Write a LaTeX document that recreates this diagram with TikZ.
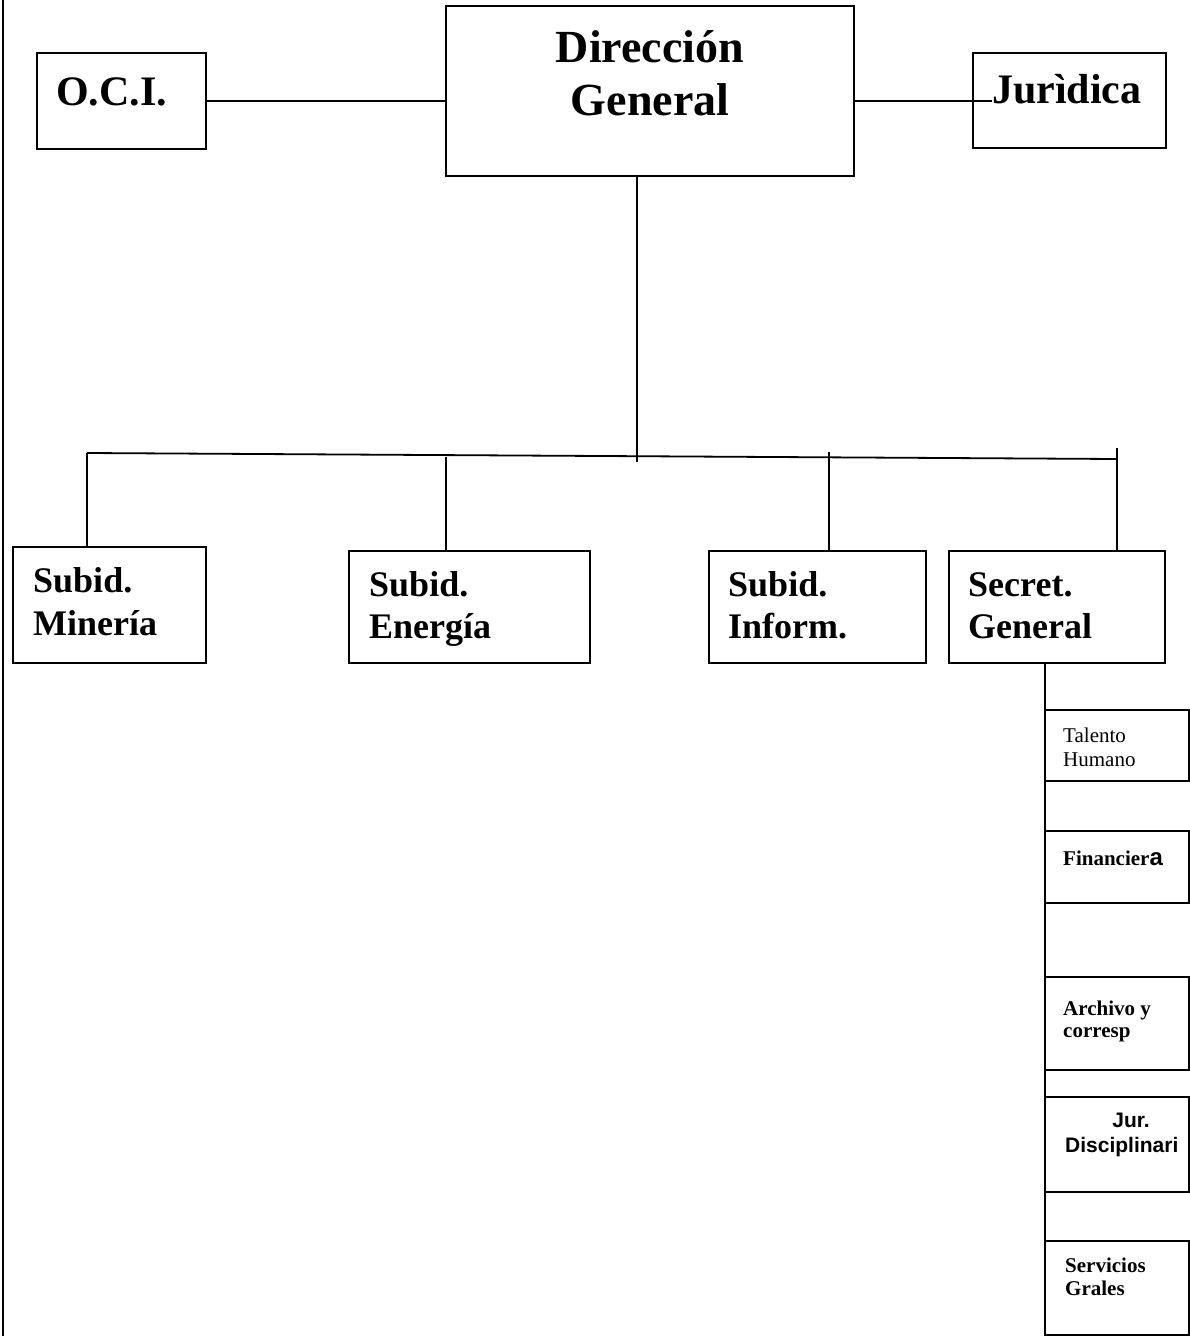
\documentclass[tikz,border=0pt]{standalone}
\usepackage{fontspec}
\setmainfont{Liberation Serif}
\newfontfamily\arialf{Liberation Sans}
\usetikzlibrary{fit}
\begin{document}
\begin{tikzpicture}[x=1pt,y=-1pt,
  box/.style={draw, line width=1.8pt, inner sep=0pt, outer sep=0pt, rectangle},
  conn/.style={line width=1.8pt},
  hugetxt/.style={font=\bfseries\fontsize{46}{53}\selectfont, inner sep=0pt, anchor=base},
  bigtxt/.style={font=\bfseries\fontsize{42}{48}\selectfont, inner sep=0pt, anchor=base west},
  midtxt/.style={font=\bfseries\fontsize{36}{42}\selectfont, inner sep=0pt, anchor=base west},
  smalltxt/.style={font=\fontsize{21}{24}\selectfont, inner sep=0pt, anchor=base west},
  smallbtxt/.style={font=\bfseries\fontsize{21}{24}\selectfont, inner sep=0pt, anchor=base west},
  arialtxt/.style={font=\arialf\bfseries\fontsize{21}{24}\selectfont, inner sep=0pt, anchor=base west}
]
\useasboundingbox (0,0) rectangle (1190,1336);
% page border (left)
\coordinate (pbT) at (3,0);
\coordinate (pbB) at (3,1336);
\draw[conn] (pbT) -- (pbB);

% boxes
\node[box, fit={(446,6) (854,176)}] (DG) {};
\node[box, fit={(37,53) (206,149)}] (OCI) {};
\node[box, fit={(973,53) (1166,148)}] (JUR) {};
\node[box, fit={(13,547) (206,663)}] (SM) {};
\node[box, fit={(349,551) (590,663)}] (SE) {};
\node[box, fit={(709,551) (926,663)}] (SI) {};
\node[box, fit={(949,551) (1165,663)}] (SG) {};
\node[box, fit={(1045,710) (1189,781)}] (TH) {};
\node[box, fit={(1045,831) (1189,903)}] (FI) {};
\node[box, fit={(1045,977) (1189,1070)}] (AR) {};
\node[box, fit={(1045,1097) (1189,1192)}] (JD) {};
\node[box, fit={(1045,1241) (1189,1335)}] (SV) {};

% texts
\node[hugetxt] (dgT1) at (650,62) {Dirección};
\node[hugetxt] (dgT2) at (650,115) {General};
\node[bigtxt] (ociT) at (56,105) {O.C.I.};
\node[bigtxt] (jurT) at (992,103) {Jurìdica};
\node[midtxt] (smT1) at (33,592) {Subid.};
\node[midtxt] (smT2) at (33,635) {Minería};
\node[midtxt] (seT1) at (369,596) {Subid.};
\node[midtxt] (seT2) at (369,638) {Energía};
\node[midtxt] (siT1) at (728,596) {Subid.};
\node[midtxt] (siT2) at (728,638) {Inform.};
\node[midtxt] (sgT1) at (968,596) {Secret.};
\node[midtxt] (sgT2) at (968,638) {General};
\node[smalltxt] (thT1) at (1063,742) {Talento};
\node[smalltxt] (thT2) at (1063,766) {Humano};
\node[smallbtxt] (fiT) at (1063,865) {Financier{\arialf\fontsize{24}{24}\selectfont a}};
\node[smallbtxt] (arT1) at (1063,1015) {Archivo y};
\node[smallbtxt] (arT2) at (1063,1037) {corresp};
\node[arialtxt, anchor=base] (jdT1) at (1131,1127) {Jur.};
\node[arialtxt] (jdT2) at (1065,1152) {Disciplinari};
\node[smallbtxt] (svT1) at (1065,1272) {Servicios};
\node[smallbtxt] (svT2) at (1065,1295) {Grales};

% connectors
\draw[conn] (OCI.east) -- (OCI.east -| DG.west);
\coordinate (jurEnd) at (992,101);
\draw[conn] (DG.east |- jurEnd) -- (jurEnd);
\coordinate (dgDown) at (637,462);
\draw[conn] (DG.south -| dgDown) -- (dgDown);
\coordinate (busL) at (87,453);
\coordinate (busR) at (1117,459);
\draw[conn] (busL) -- (busR);
\draw[conn] (busL) -- (busL |- SM.north);
\coordinate (seTop) at (446,457);
\draw[conn] (seTop) -- (seTop |- SE.north);
\coordinate (siTop) at (829,452);
\draw[conn] (siTop) -- (siTop |- SI.north);
\coordinate (sgTop) at (1117,448);
\draw[conn] (sgTop) -- (sgTop |- SG.north);
\coordinate (spineBot) at (1045,1336);
\draw[conn] (SG.south -| spineBot) -- (spineBot);
\end{tikzpicture}
\end{document}
